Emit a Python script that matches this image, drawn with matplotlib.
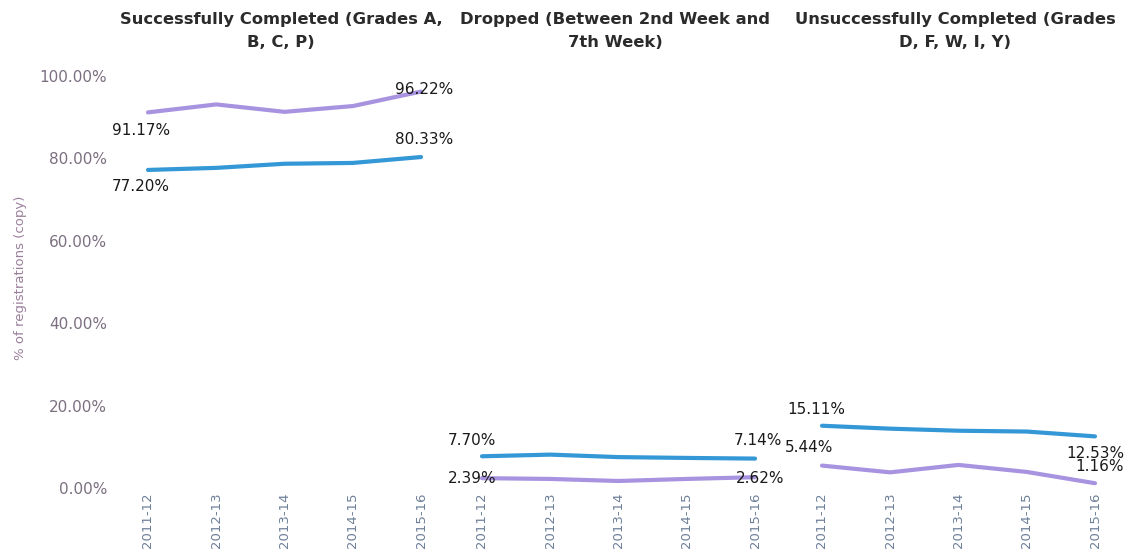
import matplotlib
matplotlib.use("Agg")
import matplotlib.pyplot as plt

years = ["2011-12", "2012-13", "2013-14", "2014-15", "2015-16"]
panel_titles = [
    "Successfully Completed (Grades A,\nB, C, P)",
    "Dropped (Between 2nd Week and\n7th Week)",
    "Unsuccessfully Completed (Grades\nD, F, W, I, Y)",
]
# blue series (upper line) and purple series per panel
blue_success = [77.20, 77.7, 78.7, 78.9, 80.33]
purple_success = [91.17, 93.1, 91.3, 92.7, 96.22]
blue_dropped = [7.70, 8.1, 7.5, 7.3, 7.14]
purple_dropped = [2.39, 2.2, 1.7, 2.2, 2.62]
blue_unsucc = [15.11, 14.4, 13.9, 13.7, 12.53]
purple_unsucc = [5.44, 3.8, 5.6, 3.9, 1.16]
y_ticks = [0, 20, 40, 60, 80, 100]
y_label = "% of registrations (copy)"

BLUE = "#3497d6"
PURPLE = "#a893e0"

W, H = 1144, 557
fig = plt.figure(figsize=(W / 100, H / 100), dpi=100)

def ax_at(left, top, width, height):
    return fig.add_axes([left / W, 1 - (top + height) / H, width / W, height / H])

lefts = [114, 448, 788]
top_px, bot_px = 65, 490
pw = 334
pxu = 68.25
x0 = -34 / pxu
x1 = x0 + pw / pxu
ppp = 4.12  # px per percent
y_bot = -(bot_px - 488) / ppp
y_top = 100 + (76 - top_px) / ppp

blues = [blue_success, blue_dropped, blue_unsucc]
purples = [purple_success, purple_dropped, purple_unsucc]

# label placement (offsets in px) : (start_blue, end_blue, start_purple, end_purple)
label_cfg = [
    [((-7, -17), "center"), ((3, 18), "center"), ((-7, -18), "center"), ((3, 2), "center")],
    [((-10, 16), "center"), ((3, 18), "center"), ((-10, 0), "center"), ((5, -1), "center")],
    [((-6, 16), "center"), ((29, -17), "right"), ((-13, 18), "center"), ((29, 17), "right")],
]

xs = list(range(len(years)))
for i in range(3):
    ax = ax_at(lefts[i], top_px, pw, bot_px - top_px)
    ax.patch.set_visible(False)
    ax.plot(xs, purples[i], color=PURPLE, lw=3, solid_capstyle="round", zorder=2)
    ax.plot(xs, blues[i], color=BLUE, lw=3, solid_capstyle="round", zorder=2)
    ax.set_xlim(x0, x1)
    ax.set_ylim(y_bot, y_top)
    for s in ax.spines.values():
        s.set_visible(False)
    ax.set_xticks(xs)
    ax.set_xticklabels(years, rotation=90, fontsize=9.5, color="#6d7f99")
    ax.tick_params(length=0, pad=2)
    ax.set_yticks(y_ticks)
    if i == 0:
        ax.set_yticklabels([f"{v:.2f}%" for v in y_ticks], fontsize=11, color="#7b6f80")
        ax.tick_params(axis="y", pad=5)
        ax.set_ylabel(y_label, fontsize=9.5, color="#9a7f9a", labelpad=9)
    else:
        ax.set_yticklabels([])
    ax.set_title(panel_titles[i], fontsize=11.8, fontweight="bold", color="#2b2b2b",
                 pad=13, linespacing=1.65)
    cfg = label_cfg[i]
    pts = [(0, blues[i][0]), (4, blues[i][-1]), (0, purples[i][0]), (4, purples[i][-1])]
    for (x, v), ((dx, dy), ha) in zip(pts, cfg):
        ax.annotate(f"{v:.2f}%", (x, v), xytext=(dx * 0.72, dy * 0.72),
                    textcoords="offset points", ha=ha, va="center",
                    fontsize=11, color="#1a1a1a", zorder=3, annotation_clip=False)

fig.savefig("out.png", dpi=100)
